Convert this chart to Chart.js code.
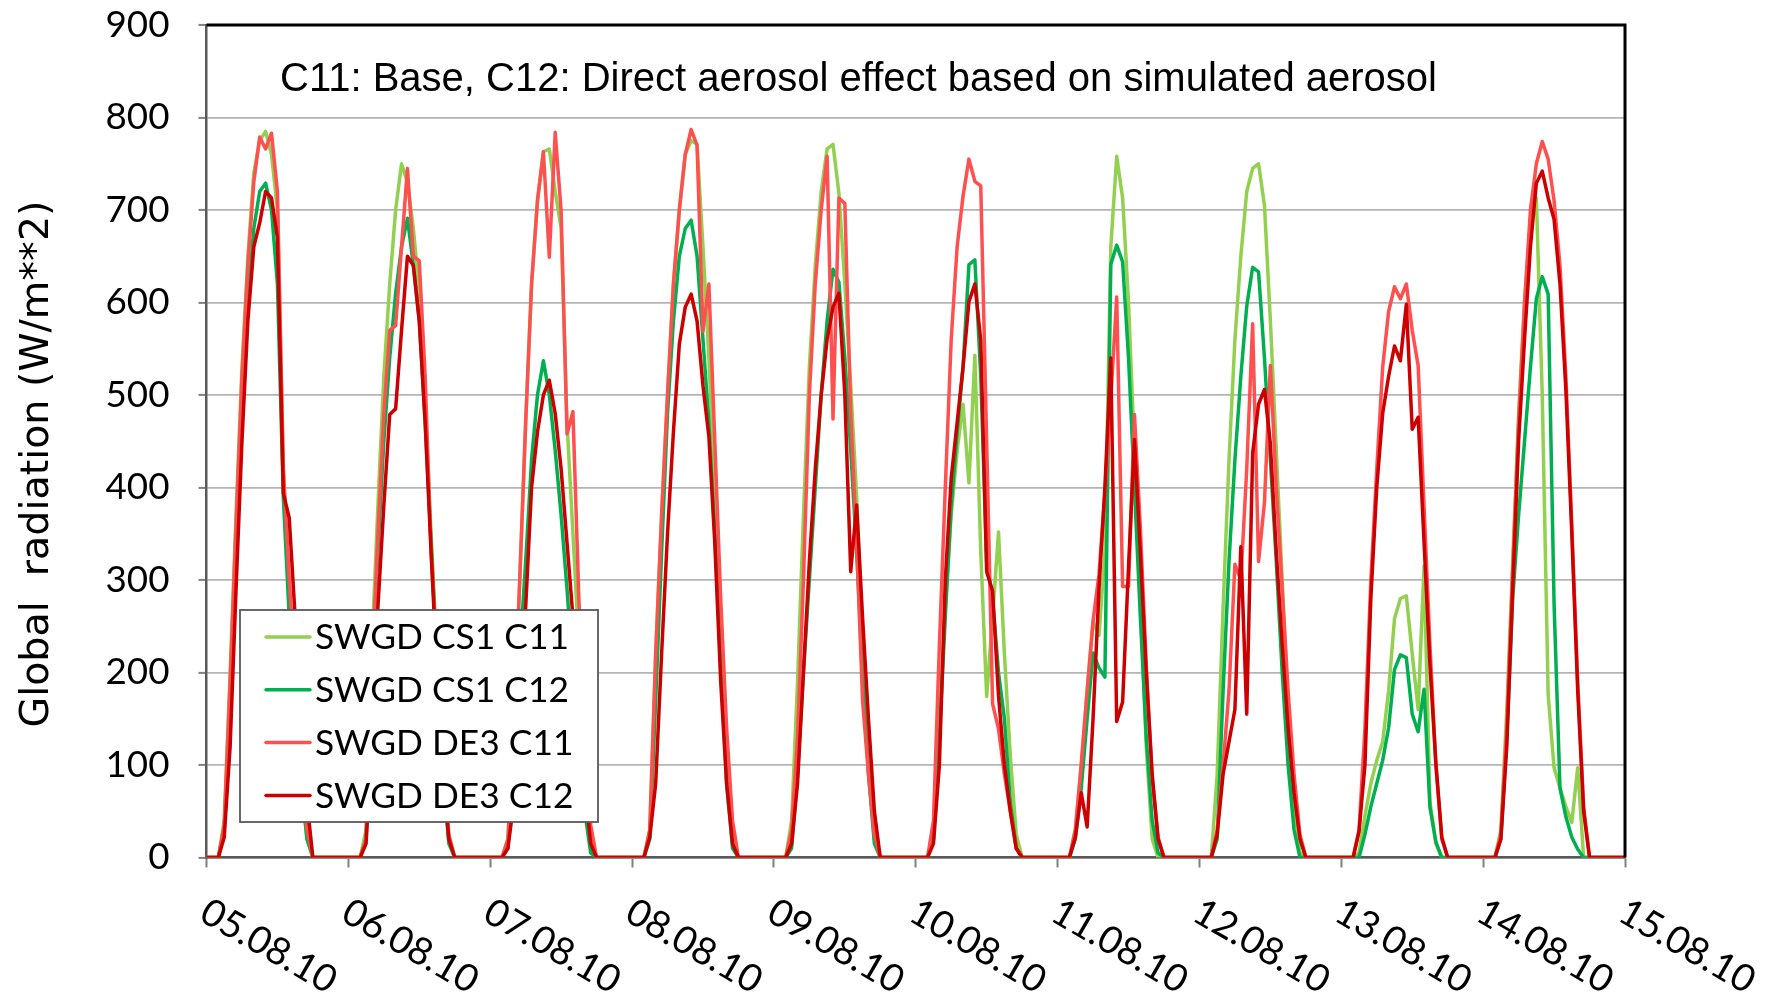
<!DOCTYPE html>
<html>
<head>
<meta charset="utf-8">
<script src="https://cdn.jsdelivr.net/npm/chart.js@4.4.0/dist/chart.umd.min.js"></script>
<style>
html,body{margin:0;padding:0;background:#ffffff;}
canvas{display:block;}
</style>
</head>
<body>
<canvas id="c" width="1769" height="995"></canvas>
<script>
// ---------------- DATA ----------------
const tickLabels = ['05.08.10','06.08.10','07.08.10','08.08.10','09.08.10','10.08.10','11.08.10','12.08.10','13.08.10','14.08.10','15.08.10'];
const seriesLabels = ['SWGD CS1 C11','SWGD CS1 C12','SWGD DE3 C11','SWGD DE3 C12'];
const chartTitle = 'C11: Base, C12: Direct aerosol effect based on simulated aerosol';
const yAxisTitle = 'Global  radiation (W/m**2)';

// hourly values, one row per day (hours 00..23)
const cs1C11Days = [
  [0,0,0,40,200,370,530,650,740,775,785,760,700,420,290,190,90,20,0,0,0,0,0,0],
  [0,0,0,30,230,380,520,620,700,750,730,680,610,490,350,220,100,20,0,0,0,0,0,0],
  [0,0,0,20,140,300,470,620,710,763,766,720,680,470,350,230,110,20,0,0,0,0,0,0],
  [0,0,0,30,220,370,500,620,700,760,775,771,660,540,400,250,110,20,0,0,0,0,0,0],
  [0,0,0,40,190,370,530,640,720,766,771,718,620,510,390,230,100,20,0,0,0,0,0,0],
  [0,0,0,30,150,270,370,440,490,405,543,330,174,260,352,220,110,25,0,0,0,0,0,0],
  [0,0,0,30,100,180,255,240,330,660,758,713,600,440,280,120,20,0,0,0,0,0,0,0],
  [0,0,0,90,270,430,560,650,720,745,750,705,580,440,300,160,60,5,0,0,0,0,0,0],
  [0,0,0,5,45,80,105,125,180,258,280,283,220,160,315,60,15,0,0,0,0,0,0,0],
  [0,0,0,30,160,320,480,600,690,713,500,176,97,75,55,38,97,0,0,0,0,0,0,0]
];
const cs1C12Days = [
  [0,0,0,30,170,330,480,600,680,720,729,700,620,389,260,160,80,20,0,0,0,0,0,0],
  [0,0,0,20,200,330,450,540,610,660,691,640,580,470,340,210,90,15,0,0,0,0,0,0],
  [0,0,0,10,100,220,320,430,500,537,500,440,370,290,200,120,50,5,0,0,0,0,0,0],
  [0,0,0,20,170,330,480,580,650,680,689,650,560,470,350,210,80,10,0,0,0,0,0,0],
  [0,0,0,10,90,200,300,400,500,580,636,622,540,440,330,200,90,15,0,0,0,0,0,0],
  [0,0,0,20,130,260,380,460,530,641,646,520,320,280,200,150,60,10,0,0,0,0,0,0],
  [0,0,0,20,75,150,221,205,195,641,662,644,540,400,260,130,40,5,0,0,0,0,0,0],
  [0,0,0,20,180,320,430,520,596,638,633,540,430,320,200,100,30,0,0,0,0,0,0,0],
  [0,0,0,0,25,55,80,105,140,203,219,216,155,136,182,54,17,0,0,0,0,0,0,0],
  [0,0,0,20,130,280,370,450,530,604,628,609,274,75,44,22,9,0,0,0,0,0,0,0]
];
const de3C11Days = [
  [0,0,0,35,190,360,520,640,730,779,766,783,720,420,300,200,110,30,0,0,0,0,0,0],
  [0,0,0,20,200,350,480,570,575,660,745,650,645,520,330,220,110,25,0,0,0,0,0,0],
  [0,0,0,20,140,300,470,620,710,763,649,784,699,458,482,280,140,35,0,0,0,0,0,0],
  [0,0,0,30,220,370,500,620,700,760,787,770,569,620,450,280,140,40,0,0,0,0,0,0],
  [0,0,0,30,130,300,500,620,700,758,474,713,707,480,340,170,90,25,0,0,0,0,0,0],
  [0,0,0,40,230,400,560,660,715,755,731,726,450,166,139,90,50,10,0,0,0,0,0,0],
  [0,0,0,30,100,180,256,306,394,495,606,293,293,479,357,208,86,22,0,0,0,0,0,0],
  [0,0,0,30,100,180,317,300,420,577,320,384,532,400,290,180,90,25,0,0,0,0,0,0],
  [0,0,0,30,140,300,420,530,590,617,604,620,570,532,380,230,100,20,0,0,0,0,0,0],
  [0,0,0,25,140,310,470,600,700,750,774,755,710,640,520,360,190,55,0,0,0,0,0,0]
];
const de3C12Days = [
  [0,0,0,22,120,290,450,580,660,686,720,713,670,394,367,260,170,60,0,0,0,0,0,0],
  [0,0,0,15,130,270,380,479,485,570,650,640,580,470,330,200,90,20,0,0,0,0,0,0],
  [0,0,0,10,60,180,270,400,460,500,516,480,420,340,260,170,80,15,0,0,0,0,0,0],
  [0,0,0,22,80,220,350,460,555,595,609,580,510,455,340,190,80,15,0,0,0,0,0,0],
  [0,0,0,15,80,200,320,420,500,560,595,610,500,309,381,260,150,50,0,0,0,0,0,0],
  [0,0,0,15,100,300,410,470,530,601,620,559,309,288,175,100,50,10,0,0,0,0,0,0],
  [0,0,0,22,70,33,150,290,400,540,147,168,314,452,330,200,90,20,0,0,0,0,0,0],
  [0,0,0,25,90,125,160,336,155,437,490,506,447,330,230,140,70,20,0,0,0,0,0,0],
  [0,0,0,28,100,280,400,480,520,553,537,598,463,476,341,208,102,22,0,0,0,0,0,0],
  [0,0,0,20,120,290,450,560,660,729,742,713,690,620,505,350,180,50,0,0,0,0,0,0]
];
const finalValue = [0]; // 15.08.10 00:00

// ---------------- STYLE ----------------
const colors = ['#92D050','#00B050','#FF5050','#CC0000'];
const drawOrder = [4,3,2,1];
const FONT_NUM = 'Lato, "Open Sans", sans-serif';
const FONT_TITLE = '"Liberation Sans", Arial, sans-serif';
const FONT_YTITLE = '"DejaVu Sans", Verdana, sans-serif';

const measCtx = document.createElement('canvas').getContext('2d');
function fitSize(text, family, target) {
  measCtx.font = '100px ' + family;
  return 100 * target / measCtx.measureText(text).width;
}
const yTickSize = fitSize('900', FONT_NUM, 64);
const xTickSize = fitSize(tickLabels[0], FONT_NUM, 150);
const legendSize = fitSize(seriesLabels[0], FONT_NUM, 254);
const titleSize = fitSize(chartTitle, FONT_TITLE, 1157);
const yTitleSize = fitSize(yAxisTitle, FONT_YTITLE, 527);

function toPoints(days) {
  return days.flat().concat(finalValue).map((v, i) => ({x: i, y: v}));
}
const allDays = [cs1C11Days, cs1C12Days, de3C11Days, de3C12Days];

const datasets = allDays.map((d, k) => ({
  label: seriesLabels[k],
  data: toPoints(d),
  borderColor: colors[k],
  backgroundColor: colors[k],
  borderWidth: 3.5,
  pointRadius: 0,
  tension: 0,
  fill: false,
  borderJoinStyle: 'round',
  borderCapStyle: 'round',
  order: drawOrder[k]
}));

// ---------------- PLUGINS ----------------
const decorPlugin = {
  id: 'decor',
  afterDatasetsDraw(chart) {
    const ctx = chart.ctx;
    const a = chart.chartArea;
    ctx.save();
    // frame: top and right black
    ctx.strokeStyle = '#000000';
    ctx.lineWidth = 3;
    ctx.beginPath();
    ctx.moveTo(a.left, a.top);
    ctx.lineTo(a.right, a.top);
    ctx.lineTo(a.right, a.bottom);
    ctx.stroke();

    // inner title
    ctx.fillStyle = '#000000';
    ctx.font = titleSize.toFixed(2) + 'px ' + FONT_TITLE;
    ctx.textAlign = 'left';
    ctx.textBaseline = 'middle';
    ctx.fillText(chartTitle, 280, 80);

    // legend box
    const bx = 240, by = 610, bw = 358, bh = 212;
    ctx.fillStyle = '#ffffff';
    ctx.fillRect(bx, by, bw, bh);
    ctx.strokeStyle = '#595959';
    ctx.lineWidth = 1.8;
    ctx.strokeRect(bx, by, bw, bh);
    ctx.font = legendSize.toFixed(2) + 'px ' + FONT_NUM;
    ctx.textBaseline = 'middle';
    chart.data.datasets.forEach((ds, i) => {
      const y = 637 + i * 52.8;
      ctx.strokeStyle = ds.borderColor;
      ctx.lineWidth = 3.5;
      ctx.lineCap = 'round';
      ctx.beginPath();
      ctx.moveTo(266, y);
      ctx.lineTo(310, y);
      ctx.stroke();
      ctx.fillStyle = '#000000';
      ctx.fillText(ds.label, 315, y + 1);
    });
    ctx.restore();
  },
  afterDraw(chart) {
    const ctx = chart.ctx;
    const xs = chart.scales.x;
    ctx.save();
    // rotated x tick labels
    ctx.fillStyle = '#000000';
    ctx.font = xTickSize.toFixed(2) + 'px ' + FONT_NUM;
    ctx.textAlign = 'left';
    ctx.textBaseline = 'middle';
    xs.ticks.forEach(t => {
      const idx = Math.round(t.value / 24);
      const label = tickLabels[idx];
      if (label === undefined) return;
      const px = xs.getPixelForValue(t.value);
      ctx.save();
      ctx.translate(px - 3, 909);
      ctx.rotate(30 * Math.PI / 180);
      ctx.fillText(label, 0, 0);
      ctx.restore();
    });
    // y axis title
    ctx.font = yTitleSize.toFixed(2) + 'px ' + FONT_YTITLE;
    ctx.textAlign = 'center';
    ctx.textBaseline = 'middle';
    ctx.translate(38, 464);
    ctx.rotate(-Math.PI / 2);
    ctx.fillText(yAxisTitle, 0, 0);
    ctx.restore();
  }
};

// ---------------- CHART ----------------
new Chart(document.getElementById('c'), {
  type: 'line',
  data: { datasets },
  options: {
    responsive: false,
    animation: false,
    devicePixelRatio: 1,
    layout: { padding: { top: 25, right: 144, bottom: 0, left: 0 } },
    plugins: {
      legend: { display: false },
      title: { display: false },
      tooltip: { enabled: false }
    },
    scales: {
      x: {
        type: 'linear',
        min: 0,
        max: 240,
        afterFit(scale) { scale.height = 137.5; scale.paddingLeft = 0; scale.paddingRight = 0; },
        ticks: { stepSize: 24, display: false, autoSkip: false },
        grid: { drawOnChartArea: false, drawTicks: true, tickLength: 10, tickColor: '#808080', tickWidth: 2 },
        border: { display: true, color: '#595959', width: 2.5 }
      },
      y: {
        min: 0,
        max: 900,
        afterFit(scale) { scale.width = 206.5; scale.paddingTop = 0; scale.paddingBottom = 0; },
        ticks: { stepSize: 100, color: '#000000', padding: 29, font: { family: FONT_NUM, size: yTickSize } },
        grid: { color: '#B4B4B4', lineWidth: 1.8, tickColor: '#808080', tickLength: 8, tickWidth: 2 },
        border: { display: true, color: '#595959', width: 2.5 }
      }
    }
  },
  plugins: [decorPlugin]
});
</script>
</body>
</html>
